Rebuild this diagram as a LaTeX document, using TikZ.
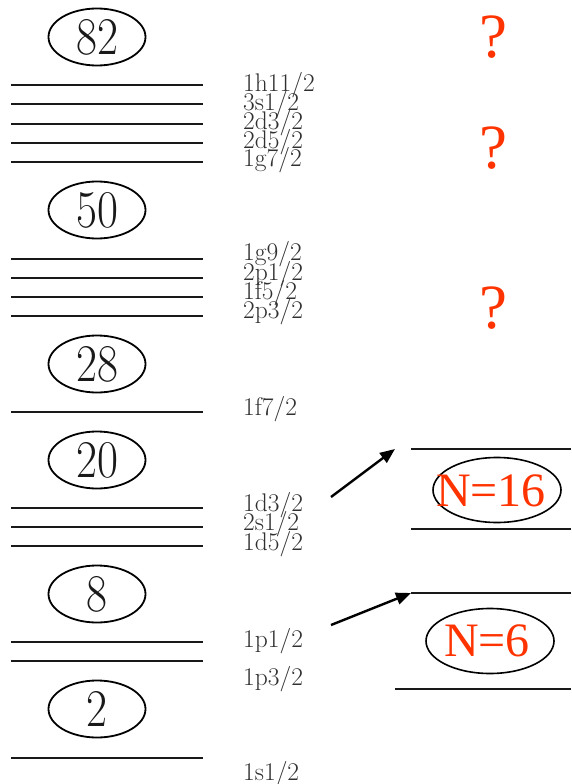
\documentclass[tikz,border=0pt]{standalone}
\usepackage{fontspec}
\newfontfamily\timesfont{Liberation Serif}
\usetikzlibrary{shapes.geometric,arrows.meta}
\definecolor{qorange}{HTML}{FF3300}
\definecolor{lblgray}{HTML}{303030}
\newcommand{\magicnum}[1]{\scalebox{0.86}[1]{\fontsize{53}{53}\selectfont #1}}
\tikzset{
  level/.style={line width=2.4pt, black!90},
  rlevel/.style={line width=2pt, black!90},
  magic/.style={draw, line width=1.8pt, ellipse, minimum width=97pt, minimum height=57pt, inner sep=0pt},
  magictext/.style={inner sep=0pt, text=black!90},
  lbl/.style={anchor=base west, inner sep=0pt, font=\fontsize{25.5}{25.5}\selectfont, text=lblgray},
  qmark/.style={inner sep=0pt, anchor=base, font=\timesfont\fontsize{63}{63}\selectfont, text=qorange},
  nell/.style={draw, line width=1.6pt, ellipse, minimum width=128pt, minimum height=65pt, inner sep=0pt},
  ntext/.style={inner sep=0pt, font=\timesfont\fontsize{48}{48}\selectfont, text=qorange},
  arr/.style={line width=2.4pt, -{Triangle[length=15pt,width=12pt]}}
}
\begin{document}
\begin{tikzpicture}[x=1pt,y=-1pt]
\useasboundingbox (0,0) rectangle (571,784);
% left level lines
\foreach \yy in {85,104,124,143,162,259,278,297,316,412,508,527,546,642,661,758}
  \draw[level] (11,\yy) -- (203,\yy);
% magic numbers
\foreach \nm/\yy in {82/37,50/210,28/364,20/460,8/594,2/709}{
  \node[magic] (e\nm) at (97,\yy) {};
  \node[magictext] (t\nm) at (e\nm.center) {\magicnum{\nm}};
}
% labels
\node[lbl] (l1) at (243,91) {1h11/2};
\node[lbl] (l2) at (243,110) {3s1/2};
\node[lbl] (l3) at (243,129) {2d3/2};
\node[lbl] (l4) at (243,148) {2d5/2};
\node[lbl] (l5) at (243,166) {1g7/2};
\node[lbl] (l6) at (243,260) {1g9/2};
\node[lbl] (l7) at (243,280) {2p1/2};
\node[lbl] (l8) at (243,299) {1f5/2};
\node[lbl] (l9) at (243,318) {2p3/2};
\node[lbl] (l10) at (243,415) {1f7/2};
\node[lbl] (l11) at (243,511) {1d3/2};
\node[lbl] (l12) at (243,530) {2s1/2};
\node[lbl] (l13) at (243,550) {1d5/2};
\node[lbl] (l14) at (243,647) {1p1/2};
\node[lbl] (l15) at (243,685) {1p3/2};
\node[lbl] (l16) at (243,780) {1s1/2};
% question marks
\node[qmark] (q1) at (493,57) {?};
\node[qmark] (q2) at (493,168) {?};
\node[qmark] (q3) at (493,328) {?};
% right levels
\draw[rlevel] (411,449) -- (571,449);
\draw[rlevel] (411,529) -- (571,529);
\draw[rlevel] (411,593) -- (571,593);
\draw[rlevel] (395,689) -- (571,689);
\node[nell] (n16) at (497,490) {};
\node[ntext] (n16t) at (491,491) {N=16};
\node[nell] (n6) at (490,641) {};
\node[ntext] (n6t) at (487,641) {N=6};
% arrows
\coordinate (a1s) at (331,497);
\coordinate (a1e) at (395,449);
\coordinate (a2s) at (331,625);
\coordinate (a2e) at (411,593);
\draw[arr] (a1s) -- (a1e);
\draw[arr] (a2s) -- (a2e);
\end{tikzpicture}
\end{document}
